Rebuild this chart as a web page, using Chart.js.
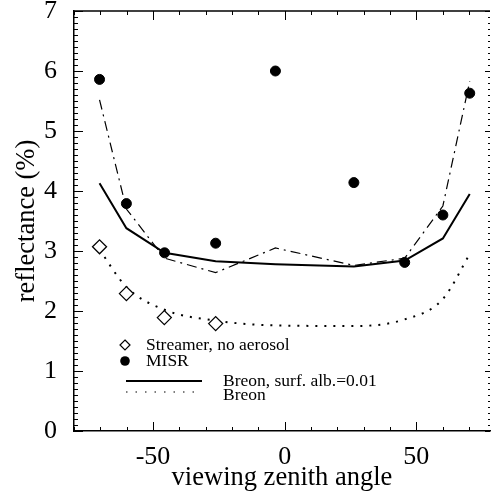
<!DOCTYPE html>
<html>
<head>
<meta charset="utf-8">
<script src="https://cdn.jsdelivr.net/npm/chart.js@4.4.0/dist/chart.umd.min.js"></script>
<style>
  body { margin: 0; background: #fff; }
  #wrap { width: 492px; height: 500px; }
</style>
</head>
<body>
<div id="wrap"><canvas id="myChart" width="492" height="500"></canvas></div>
<script>
// viewing zenith angles of the camera views
var angles = [-70.3, -60.1, -45.6, -26.2, -3.5, 26.3, 45.6, 60.1, 70.3];
var misrValues = [5.86, 3.79, 2.97, 3.13, 6.0, 4.14, 2.81, 3.6, 5.63];
var dashDotValues = [5.52, 3.7, 2.88, 2.64, 3.05, 2.76, 2.88, 3.75, 5.83];
var breonAlbValues = [4.13, 3.38, 2.97, 2.83, 2.78, 2.74, 2.84, 3.21, 3.95];
var breonValues = [3.02, 2.4, 2.02, 1.84, 1.76, 1.75, 1.86, 2.2, 2.95];

var streamerAngles = [-70.3, -60.1, -45.7, -26.2];
var streamerValues = [3.07, 2.29, 1.89, 1.79];

var xTickLabels = [-50, 0, 50];
var legendLabels = ['Streamer, no aerosol', 'MISR', 'Breon, surf. alb.=0.01', 'Breon'];

var serif = '"Liberation Serif", "DejaVu Serif", serif';

function toPoints(xs, ys) {
    var pts = [];
    for (var i = 0; i < xs.length; i++) {
        pts.push({ x: xs[i], y: ys[i] });
    }
    return pts;
}

// inward tick marks on all four sides
var tickPlugin = {
    id: 'frameTicks',
    afterDraw: function (chart) {
        var ctx = chart.ctx;
        var a = chart.chartArea;
        var xs = chart.scales.x;
        var ys = chart.scales.y;
        ctx.save();
        ctx.strokeStyle = '#000';
        ctx.lineWidth = 1.3;

        // top border
        ctx.beginPath();
        ctx.moveTo(a.left, a.top);
        ctx.lineTo(a.right, a.top);
        ctx.stroke();

        ctx.lineWidth = 1;
        for (var v = -80; v <= 78; v += 10) {
            var px = Math.round(xs.getPixelForValue(v)) + 0.5;
            var len = (v % 50 === 0) ? 9 : 4;
            ctx.beginPath();
            ctx.moveTo(px, a.bottom);
            ctx.lineTo(px, a.bottom - len);
            ctx.moveTo(px, a.top);
            ctx.lineTo(px, a.top + len);
            ctx.stroke();
        }
        for (var k = 0; k <= 70; k++) {
            var py = Math.round(ys.getPixelForValue(k / 10)) + 0.5;
            var major = (k % 10 === 0);
            ctx.beginPath();
            ctx.moveTo(a.left, py);
            ctx.lineTo(a.left + (major ? 9 : 4), py);
            ctx.moveTo(a.right, py);
            ctx.lineTo(a.right - (major ? 5 : 2), py);
            ctx.stroke();
        }
        ctx.restore();
    }
};

var legendPlugin = {
    id: 'insideLegend',
    afterDatasetsDraw: function (chart) {
        var ctx = chart.ctx;
        var a = chart.chartArea;
        var mx = a.left + 51;
        ctx.save();
        ctx.fillStyle = '#000';
        ctx.strokeStyle = '#000';
        ctx.font = '17.5px ' + serif;
        ctx.textBaseline = 'middle';
        ctx.textAlign = 'left';

        // diamond
        var y1 = a.bottom - 86;
        ctx.lineWidth = 1.2;
        ctx.beginPath();
        ctx.moveTo(mx, y1 - 5);
        ctx.lineTo(mx + 5, y1);
        ctx.lineTo(mx, y1 + 5);
        ctx.lineTo(mx - 5, y1);
        ctx.closePath();
        ctx.stroke();
        ctx.fillText(legendLabels[0], a.left + 72, y1);

        // dot
        var y2 = a.bottom - 70;
        ctx.beginPath();
        ctx.arc(mx, y2, 4.8, 0, Math.PI * 2);
        ctx.fill();
        ctx.fillText(legendLabels[1], a.left + 72, y2);

        // solid
        var y3 = a.bottom - 50;
        ctx.lineWidth = 2;
        ctx.beginPath();
        ctx.moveTo(a.left + 52, y3);
        ctx.lineTo(a.left + 128, y3);
        ctx.stroke();
        ctx.fillText(legendLabels[2], a.left + 149, y3);

        // dotted
        var y4 = a.bottom - 39;
        ctx.lineWidth = 1.2;
        ctx.setLineDash([1.5, 8]);
        ctx.beginPath();
        ctx.moveTo(a.left + 52, y4);
        ctx.lineTo(a.left + 128, y4);
        ctx.stroke();
        ctx.setLineDash([]);
        ctx.fillText(legendLabels[3], a.left + 149, y4 + 3);
        ctx.restore();
    }
};

Chart.defaults.color = '#000';
Chart.defaults.font.family = serif;

var ctx = document.getElementById('myChart').getContext('2d');

var myChart = new Chart(ctx, {
    type: 'scatter',
    data: {
        datasets: [{
            label: legendLabels[0],
            data: toPoints(streamerAngles, streamerValues),
            pointStyle: 'rectRot',
            pointRadius: 7,
            backgroundColor: '#fff',
            borderColor: '#000',
            borderWidth: 1.3,
            showLine: false,
            order: 1
        }, {
            label: legendLabels[1],
            data: toPoints(angles, misrValues),
            pointStyle: 'circle',
            pointRadius: 5,
            backgroundColor: '#000',
            borderColor: '#000',
            borderWidth: 1,
            showLine: false,
            order: 0
        }, {
            label: legendLabels[2],
            data: toPoints(angles, breonAlbValues),
            showLine: true,
            pointRadius: 0,
            borderColor: '#000',
            borderWidth: 2,
            fill: false,
            order: 3
        }, {
            label: legendLabels[3],
            data: toPoints(angles, breonValues),
            showLine: true,
            pointRadius: 0,
            borderColor: '#000',
            borderWidth: 2,
            borderDash: [2, 7],
            cubicInterpolationMode: 'monotone',
            fill: false,
            order: 4
        }, {
            label: 'model',
            data: toPoints(angles, dashDotValues),
            showLine: true,
            pointRadius: 0,
            borderColor: '#000',
            borderWidth: 1.2,
            borderDash: [10, 5, 2, 5],
            fill: false,
            order: 2
        }]
    },
    options: {
        responsive: false,
        animation: false,
        layout: { autoPadding: false, padding: { top: 11, right: 2, left: 0, bottom: 0 } },
        plugins: {
            legend: { display: false },
            tooltip: { enabled: false }
        },
        scales: {
            x: {
                type: 'linear',
                min: -80,
                max: 78,
                afterBuildTicks: function (scale) {
                    scale.ticks = xTickLabels.map(function (v) { return { value: v }; });
                },
                afterFit: function (scale) {
                    scale.height = 69;
                    scale.paddingLeft = 0;
                    scale.paddingRight = 0;
                },
                ticks: {
                    padding: 3,
                    maxRotation: 0,
                    font: { size: 26, family: serif },
                    color: '#000'
                },
                grid: { display: false },
                border: { display: true, color: '#000', width: 1.5 },
                title: {
                    display: true,
                    text: 'viewing zenith angle',
                    font: { size: 26.5, family: serif },
                    color: '#000',
                    padding: { top: 0, bottom: 6 }
                }
            },
            y: {
                type: 'linear',
                min: 0,
                max: 7,
                afterFit: function (scale) {
                    scale.width = 74;
                    scale.paddingTop = 0;
                    scale.paddingBottom = 0;
                },
                ticks: {
                    stepSize: 1,
                    padding: 9,
                    font: { size: 26, family: serif },
                    color: '#000'
                },
                grid: { display: false },
                border: { display: true, color: '#000', width: 1.5 },
                title: {
                    display: true,
                    text: 'reflectance (%)',
                    font: { size: 26.5, family: serif },
                    color: '#000',
                    padding: { top: 11, bottom: 0 }
                }
            }
        }
    },
    plugins: [tickPlugin, legendPlugin]
});
</script>
</body>
</html>
